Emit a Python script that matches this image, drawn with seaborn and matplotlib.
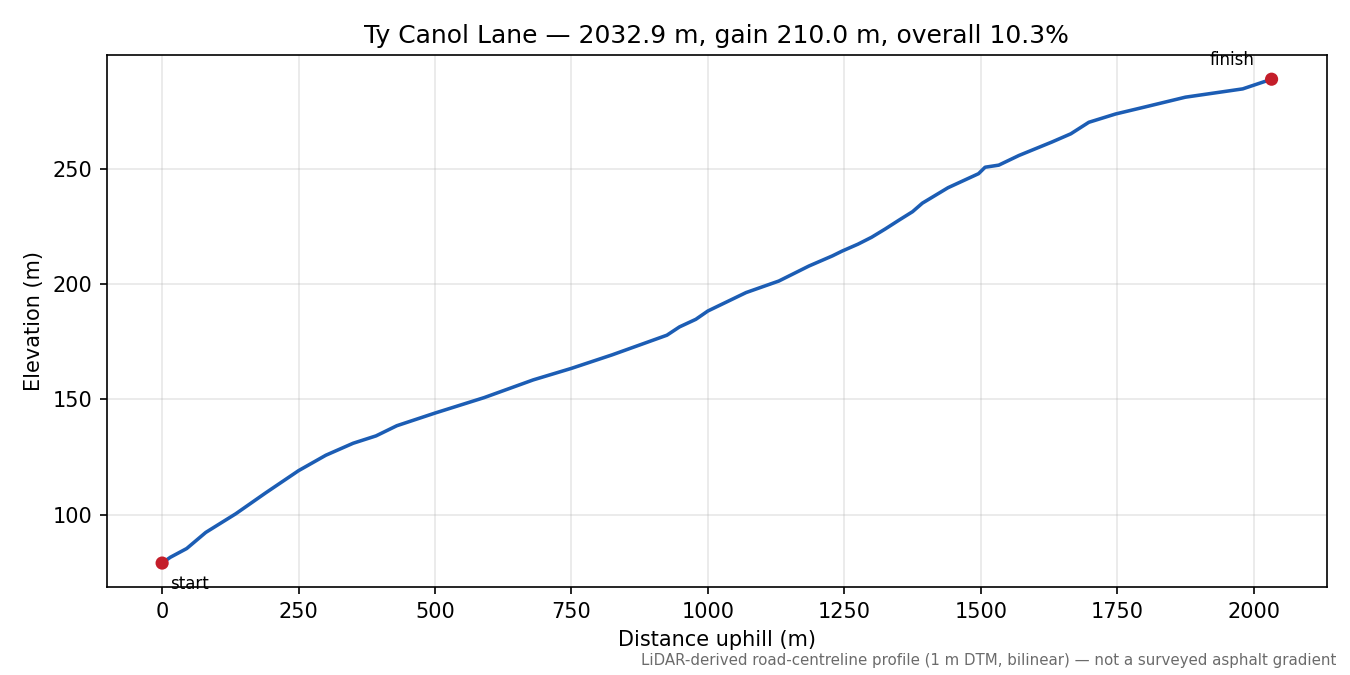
import numpy as np
import pandas as pd
import matplotlib
matplotlib.use("Agg")
import matplotlib.pyplot as plt
import seaborn as sns

# profile (distance uphill, elevation)
distance = [0, 15, 45, 80, 135, 190, 250, 300, 350, 392, 430, 500, 590, 680,
            750, 825, 905, 925, 948, 978, 1000, 1070, 1130, 1185, 1228, 1246,
            1275, 1300, 1325, 1350, 1375, 1393, 1440, 1496, 1508, 1533, 1570,
            1630, 1665, 1698, 1747, 1800, 1875, 1980, 2032.9]
elevation = [79.0, 81.5, 85.3, 92.3, 100.4, 109.5, 119.1, 125.8, 131.0, 134.2,
             138.6, 144.1, 150.8, 158.5, 163.5, 169.4, 176.2, 177.9, 181.5,
             184.8, 188.4, 196.4, 201.4, 207.9, 212.3, 214.4, 217.4, 220.4,
             224.0, 227.8, 231.5, 235.2, 241.9, 248.0, 250.8, 251.7, 255.9,
             261.7, 265.3, 270.3, 273.9, 276.9, 281.2, 284.8, 289.0]
end_labels = ["start", "finish"]

title = "Ty Canol Lane \u2014 2032.9 m, gain 210.0 m, overall 10.3%"
note = ("LiDAR-derived road-centreline profile (1 m DTM, bilinear) "
        "\u2014 not a surveyed asphalt gradient")

df = pd.DataFrame({"distance": distance, "elevation": elevation})
ends = df.iloc[[0, -1]].copy()
ends["label"] = end_labels

sns.set_style("ticks")
plt.rcParams.update({
    "font.family": ["DejaVu Sans"],
    "axes.edgecolor": "black",
    "axes.labelcolor": "black",
    "text.color": "black",
    "xtick.color": "black",
    "ytick.color": "black",
})

fig, ax = plt.subplots(figsize=(9, 4.5), dpi=150)
fig.subplots_adjust(left=0.079, right=0.983, top=0.9185, bottom=0.130)

sns.lineplot(data=df, x="distance", y="elevation", color="#1c5db4",
             linewidth=1.7, ax=ax)
sns.scatterplot(data=ends, x="distance", y="elevation", color="#c41e2a",
                s=40, edgecolor="none", zorder=5, ax=ax)

for _, r in ends.iterrows():
    if r["label"] == "start":
        ax.annotate(r["label"], (r["distance"], r["elevation"]),
                    xytext=(4, -5.5), textcoords="offset points",
                    ha="left", va="top", fontsize=8)
    else:
        ax.annotate(r["label"], (r["distance"], r["elevation"]),
                    xytext=(-8, 5), textcoords="offset points",
                    ha="right", va="bottom", fontsize=8)

ax.grid(True, color="#b0b0b0", alpha=0.3, linewidth=0.8)
ax.set_title(title, fontsize=12)
ax.set_xlabel("Distance uphill (m)", fontsize=10)
ax.set_ylabel("Elevation (m)", fontsize=10)
ax.tick_params(labelsize=10)
ax.set_xticks([0, 250, 500, 750, 1000, 1250, 1500, 1750, 2000])
ax.set_yticks([100, 150, 200, 250])

fig.text(0.9896, 0.011, note, ha="right", va="bottom", fontsize=7.2,
         color="#6b6b6b")

fig.savefig("out.png", dpi=150)
